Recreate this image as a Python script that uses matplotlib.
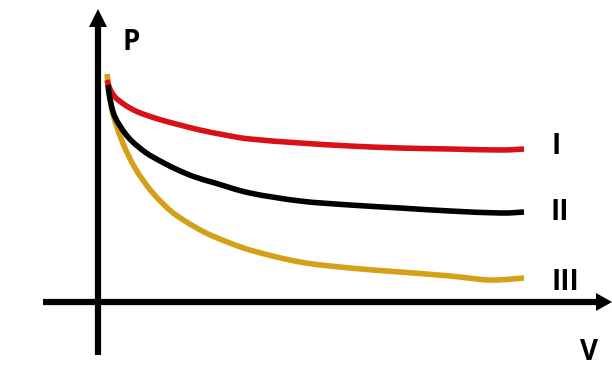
import matplotlib
matplotlib.use("Agg")
import matplotlib.pyplot as plt
from matplotlib.path import Path
from matplotlib.patches import PathPatch
import numpy as np

# Data (V, P) in arbitrary units; origin at the axis crossing
v_I = [9, 12, 17, 27, 40, 60, 82, 102, 127, 152, 202, 252, 302, 352, 402, 426]
p_I = [222, 213, 205, 197, 190, 183, 177, 172, 167, 163, 159, 156, 154, 153, 152, 153]

v_II = [10, 12, 17, 30, 47, 64, 80, 97, 117, 152, 202, 252, 302, 352, 402, 426]
p_II = [217, 203, 185, 165, 150, 140, 132, 125, 119, 109, 101, 97, 94, 91, 89, 90]

v_III = [9, 14, 24, 37, 54, 74, 97, 117, 152, 202, 252, 302, 352, 392, 426]
p_III = [228, 192, 161, 134, 110, 90, 75, 65, 52, 40, 34, 30, 26, 22, 24]

curve_labels = ["I", "II", "III"]
colors = ["#d91018", "#000000", "#d4a017"]


def smooth_path(xs, ys):
    """Draw the data points joined by a smooth Catmull-Rom curve."""
    pts = np.column_stack([xs, ys]).astype(float)
    n = len(pts)
    verts = [pts[0]]
    codes = [Path.MOVETO]
    for i in range(n - 1):
        p0 = pts[i - 1] if i > 0 else pts[i]
        p1 = pts[i]
        p2 = pts[i + 1]
        p3 = pts[i + 2] if i + 2 < n else pts[i + 1]
        c1 = p1 + (p2 - p0) / 6.0
        c2 = p2 - (p3 - p1) / 6.0
        verts += [c1, c2, p2]
        codes += [Path.CURVE4] * 3
    return Path(verts, codes)


fig = plt.figure(figsize=(6.12, 3.65), dpi=100)
ax = fig.add_axes([0, 0, 1, 1])
ax.set_xlim(-98, 514)
ax.set_ylim(-63, 302)
ax.axis("off")

lw = 4.0
# axes with arrowheads
ax.plot([-55, 500], [0, 0], color="black", lw=4.5, solid_capstyle="butt")
ax.plot([0, 0], [-53, 277], color="black", lw=4.5, solid_capstyle="butt")
ax.fill([498, 514, 498], [-9, 0, 9], color="black", lw=0)
ax.fill([-9, 0, 9], [275, 293, 275], color="black", lw=0)

vs = [v_I, v_II, v_III]
ps = [p_I, p_II, p_III]
for i in [2, 0, 1]:
    patch = PathPatch(smooth_path(vs[i], ps[i]), facecolor="none",
                      edgecolor=colors[i], lw=lw, capstyle="butt",
                      joinstyle="round")
    ax.add_patch(patch)

font = dict(family="Open Sans", fontweight="bold", fontsize=20)
label_pos = [(458, 155), (462, 89), (467, 19)]
for lab, (x, y) in zip(curve_labels, label_pos):
    ax.text(x, y, lab, ha="center", va="center", **font)
ax.text(33, 260, "P", ha="center", va="center", **font)
ax.text(491, -50, "V", ha="center", va="center", **font)

fig.savefig("out.png", dpi=100)
